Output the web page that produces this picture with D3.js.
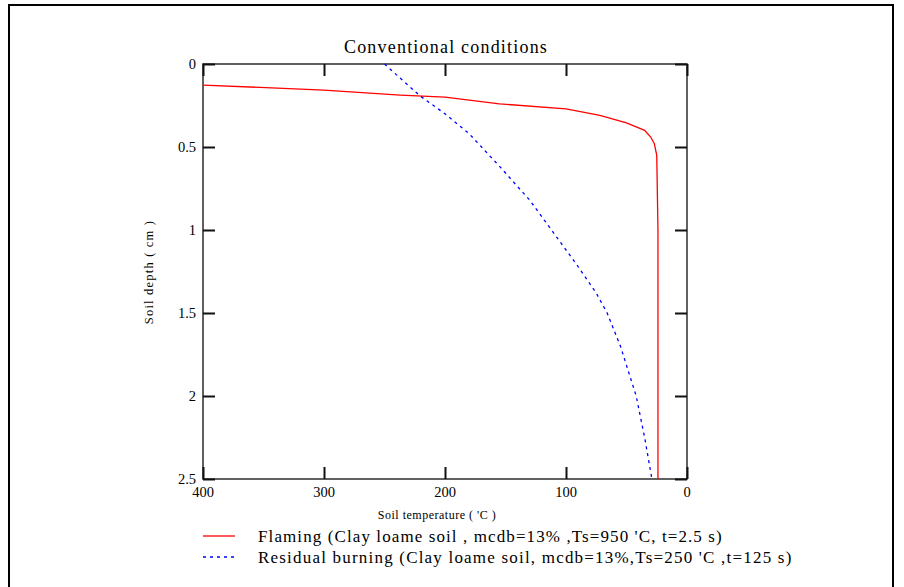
<!DOCTYPE html>
<html><head><meta charset="utf-8">
<script src="https://cdn.jsdelivr.net/npm/d3@7"></script>
<style>html,body{margin:0;padding:0;background:#fff;}svg{display:block;}</style>
</head><body>
<svg id="c" width="904" height="587"></svg>
<script>
const title = "Conventional conditions";
const xLabel = "Soil temperature ( 'C )";
const yLabel = "Soil depth ( cm )";
const xTicks = [400, 300, 200, 100, 0];
const yTicks = [0, 0.5, 1, 1.5, 2, 2.5];
const seriesNames = ["Flaming (Clay loame soil , mcdb=13% ,Ts=950 'C, t=2.5 s)",
                     "Residual burning (Clay loame soil, mcdb=13%,Ts=250 'C ,t=125 s)"];
const flamingTemp  = [400, 300, 237, 200, 155, 100, 72, 50, 35, 30, 27, 25, 24, 24];
const flamingDepth = [0.127, 0.157, 0.187, 0.2, 0.24, 0.27, 0.31, 0.355, 0.40, 0.44, 0.48, 0.55, 1.0, 2.5];
const residualTemp  = [250, 221, 200, 180, 154.5, 130, 112, 90, 75, 66, 55, 42, 35, 29];
const residualDepth = [0, 0.19, 0.30, 0.42, 0.62, 0.82, 1.0, 1.22, 1.38, 1.5, 1.7, 2.0, 2.25, 2.5];

const svg = d3.select("#c");
const L = 203, R = 687, T = 64, B = 479;
const x = d3.scaleLinear().domain([400, 0]).range([L, R]);
const y = d3.scaleLinear().domain([0, 2.5]).range([T, B]);
const serif = "'Liberation Serif','Times New Roman',serif";

// outer border
svg.append("rect").attr("x", 9).attr("y", 5).attr("width", 884).attr("height", 600)
  .attr("fill", "none").attr("stroke", "#000").attr("stroke-width", 2);

// title
svg.append("text").attr("x", 446).attr("y", 53).attr("text-anchor", "middle")
  .attr("font-family", serif).attr("font-size", 18).attr("letter-spacing", 1.2).text(title);

// frame
svg.append("rect").attr("x", L).attr("y", T).attr("width", R - L).attr("height", B - T)
  .attr("fill", "none").attr("stroke", "#3a3a3a").attr("stroke-width", 1.6);

const tickLen = 12;
const axB = d3.axisTop(x).tickValues(xTicks).tickSize(tickLen).tickFormat("");
const axT = d3.axisBottom(x).tickValues(xTicks).tickSize(tickLen).tickFormat("");
const axLf = d3.axisRight(y).tickValues(yTicks).tickSize(tickLen).tickFormat("");
const axRt = d3.axisLeft(y).tickValues(yTicks).tickSize(tickLen).tickFormat("");
[[axB, `translate(0,${B})`], [axT, `translate(0,${T})`], [axLf, `translate(${L},0)`], [axRt, `translate(${R},0)`]]
  .forEach(([ax, tr]) => {
    const g = svg.append("g").attr("transform", tr).call(ax);
    g.select(".domain").remove();
    g.selectAll(".tick line").attr("stroke", "#111").attr("stroke-width", 2);
  });

// tick labels
svg.append("g").selectAll("text").data(xTicks).join("text")
  .attr("x", d => x(d)).attr("y", B + 18).attr("text-anchor", "middle")
  .attr("font-family", serif).attr("font-size", 14.5).text(d => d);
svg.append("g").selectAll("text").data(yTicks).join("text")
  .attr("x", L - 7).attr("y", d => y(d) + 5).attr("text-anchor", "end")
  .attr("font-family", serif).attr("font-size", 14.5).text(d => d);

// axis labels
svg.append("text").attr("x", 437).attr("y", 519).attr("text-anchor", "middle")
  .attr("font-family", serif).attr("font-size", 12).attr("letter-spacing", 0.5).text(xLabel);
svg.append("text").attr("transform", `translate(153,272) rotate(-90)`)
  .attr("text-anchor", "middle").attr("font-family", serif).attr("font-size", 12.5)
  .attr("letter-spacing", 1.2).text(yLabel);

// lines
const line = d3.line().x(d => x(d[0])).y(d => y(d[1]));
const flaming = flamingTemp.map((t, i) => [t, flamingDepth[i]]);
const residual = residualTemp.map((t, i) => [t, residualDepth[i]]);
svg.append("path").datum(flaming).attr("d", line).attr("fill", "none")
  .attr("stroke", "#ff0000").attr("stroke-width", 1.3);
svg.append("path").datum(residual).attr("d", line).attr("fill", "none")
  .attr("stroke", "#0000ff").attr("stroke-width", 1.3).attr("stroke-dasharray", "3,4");

// legend
const legY = [536, 557];
const colors = ["#ff0000", "#0000ff"];
const dashes = [null, "3,4"];
seriesNames.forEach((n, i) => {
  svg.append("line").attr("x1", 203).attr("x2", 235).attr("y1", legY[i]).attr("y2", legY[i])
    .attr("stroke", colors[i]).attr("stroke-width", 1.3).attr("stroke-dasharray", dashes[i]);
  svg.append("text").attr("x", 258).attr("y", legY[i] + 6).attr("font-family", serif)
    .attr("font-size", 17).attr("letter-spacing", i === 0 ? 1.1 : 1.2).text(n);
});
</script>
</body></html>
